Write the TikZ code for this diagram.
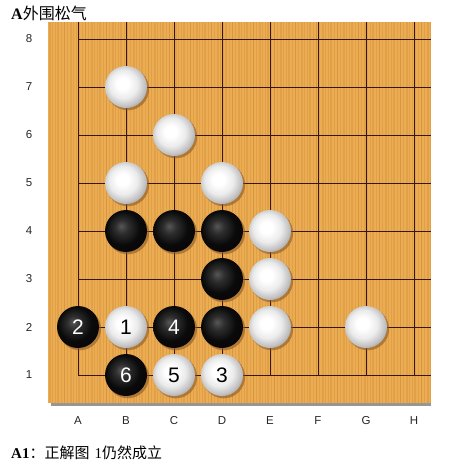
\documentclass[tikz,border=0pt]{standalone}
\usepackage{fontspec}
\setmainfont{Liberation Serif}
\newfontfamily\cjk{Noto Sans CJK SC}
\newfontfamily\labfont{Liberation Sans}
\definecolor{wood}{RGB}{236,172,82}
\definecolor{woodstripe}{RGB}{205,140,55}
\definecolor{gridc}{RGB}{55,22,18}
\definecolor{boardshadow}{RGB}{150,150,150}
\definecolor{stoneshadow}{RGB}{140,90,40}
\pgfdeclareradialshading{wstone}{\pgfpoint{-5bp}{5bp}}{color(0bp)=(white); color(7bp)=(white); color(17bp)=(black!8); color(25bp)=(black!24); color(31bp)=(black!40); color(50bp)=(black!45)}
\pgfdeclareradialshading{bstone}{\pgfpoint{-6bp}{6bp}}{color(0bp)=(black!66); color(8bp)=(black!82); color(20bp)=(black!96); color(50bp)=(black)}
\tikzset{
  stone/.style={circle, minimum size=42pt, inner sep=0pt,
    font=\labfont\fontsize{21}{21}\selectfont},
  wst/.style={stone, shade, shading=wstone, text=black},
  bst/.style={stone, shade, shading=bstone, text=white},
  gridline/.style={draw=gridc, line width=1pt},
  coordlabel/.style={font=\labfont\fontsize{11.5}{11.5}\selectfont, text=black!85, inner sep=0pt},
  stoneshade/.style={fill=stoneshadow, opacity=0.6},
}
\begin{document}
\begin{tikzpicture}[x=1pt,y=-1pt]
\useasboundingbox[fill=white] (0,0) rectangle (459,466);
% board shadow and board
\fill[boardshadow] (51,26) rectangle (431,406);
\fill[wood] (48,22) rectangle (431,403);
\foreach \i in {49,52,...,430} {
  \draw[woodstripe, opacity=0.35, line width=0.7pt] (\i,22) -- (\i,403);
}
\foreach \i in {50.5,57.5,...,430} {
  \draw[woodstripe!80!black, opacity=0.18, line width=0.5pt] (\i,22) -- (\i,403);
}
% grid
\foreach \c in {0,...,7} {
  \draw[gridline] (78+48*\c,375) -- (78+48*\c,22);
}
\foreach \r in {0,...,7} {
  \draw[gridline] (78,375-48*\r) -- (431,375-48*\r);
}
% coordinate labels
\foreach \r in {1,...,8} {
  \node[coordlabel] (row\r) at (29,375-48*\r+48) {\r};
}
\foreach \c/\l in {0/A,1/B,2/C,3/D,4/E,5/F,6/G,7/H} {
  \node[coordlabel] (col\l) at (78+48*\c,421) {\l};
}
% stone shadows
\foreach \x/\y in {126/87,174/135,126/183,222/183,270/231,270/279,270/327,366/327,126/327,174/375,222/375,
                   126/231,174/231,222/231,222/279,222/327,78/327,174/327,126/375} {
  \fill[stoneshade] (\x+1.8,\y+2) circle (21.3);
}
% white stones
\node[wst] (wB7) at (126,87) {};
\node[wst] (wC6) at (174,135) {};
\node[wst] (wB5) at (126,183) {};
\node[wst] (wD5) at (222,183) {};
\node[wst] (wE4) at (270,231) {};
\node[wst] (wE3) at (270,279) {};
\node[wst] (wE2) at (270,327) {};
\node[wst] (wG2) at (366,327) {};
\node[wst] (wB2) at (126,327) {1};
\node[wst] (wC1) at (174,375) {5};
\node[wst] (wD1) at (222,375) {3};
% black stones
\node[bst] (bB4) at (126,231) {};
\node[bst] (bC4) at (174,231) {};
\node[bst] (bD4) at (222,231) {};
\node[bst] (bD3) at (222,279) {};
\node[bst] (bD2) at (222,327) {};
\node[bst] (bA2) at (78,327) {2};
\node[bst] (bC2) at (174,327) {4};
\node[bst] (bB1) at (126,375) {6};
% texts
\node[anchor=west, inner sep=0pt, font=\fontsize{16}{16}\selectfont] (title) at (11,13) {\textbf{A}\cjk 外围松气};
\node[anchor=west, inner sep=0pt, font=\fontsize{15}{15}\selectfont] (caption) at (11,453) {\textbf{A1}\cjk ：正解图\hspace{5pt}\rmfamily 1\cjk 仍然成立};
\end{tikzpicture}
\end{document}
